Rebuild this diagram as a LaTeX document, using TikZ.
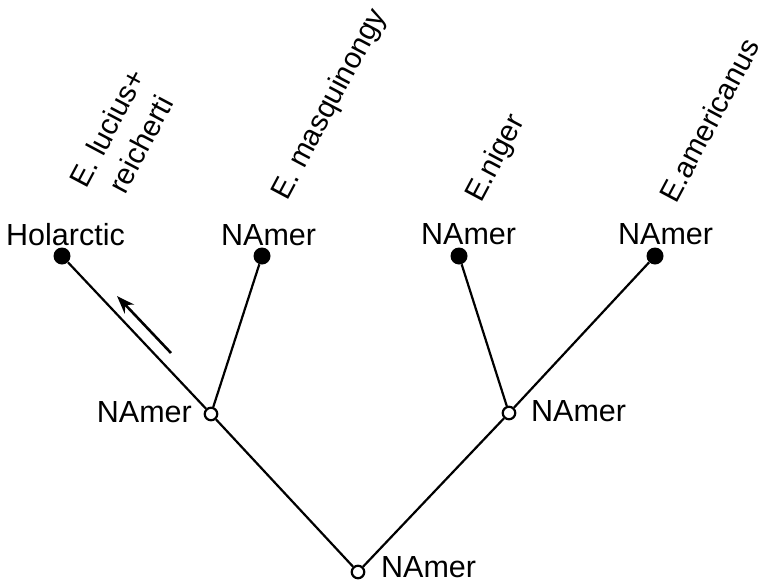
\documentclass[tikz,border=0pt]{standalone}
\usepackage{fontspec}
\setmainfont{Liberation Sans}
\usetikzlibrary{arrows.meta}
\begin{document}
\begin{tikzpicture}[x=1pt,y=-1pt,
  leaf/.style={circle,fill=black,inner sep=0pt,minimum size=17pt},
  innode/.style={circle,draw=black,fill=white,line width=2.2pt,inner sep=0pt,minimum size=12.5pt},
  lab/.style={inner sep=0pt,font=\fontsize{30.5}{36}\selectfont},
  sp/.style={inner sep=0pt,font=\fontsize{29.5}{36}\selectfont,rotate=62,anchor=base west},
  branch/.style={line width=2.2pt}]
\useasboundingbox (0,0) rectangle (768,584);
% nodes
\node[leaf] (hol) at (62,256) {};
\node[leaf] (mas) at (262,256) {};
\node[leaf] (nig) at (459,256) {};
\node[leaf] (ame) at (655,256) {};
\node[innode] (lin) at (211,414) {};
\node[innode] (rin) at (509,413) {};
\node[innode] (root) at (358,572) {};
% branches
\draw[branch] (root) -- (lin);
\draw[branch] (root) -- (rin);
\draw[branch] (lin) -- (hol);
\draw[branch] (lin) -- (mas);
\draw[branch] (rin) -- (nig);
\draw[branch] (rin) -- (ame);
% arrow
\coordinate (atail) at (171,353);
\coordinate (ahead) at (117,296);
\draw[line width=2.6pt,-{Stealth[length=18pt,width=13pt]}] (atail) -- (ahead);
% area labels
\node[lab,anchor=base west] (lhol) at (6,245) {Holarctic};
\node[lab,anchor=base west] (lmas) at (221,245) {NAmer};
\node[lab,anchor=base west] (lnig) at (421,244) {NAmer};
\node[lab,anchor=base west] (lame) at (618,244) {NAmer};
\node[lab,anchor=base east] (llin) at (192,422) {NAmer};
\node[lab,anchor=base west] (lrin) at (531,421) {NAmer};
\node[lab,anchor=base west] (lroot) at (381,577) {NAmer};
% species labels
\node[sp] (sluc) at (86,190) {E. lucius+};
\node[sp] (srei) at (125,196) {reicherti};
\node[sp] (smas) at (287,202) {E. masquinongy};
\node[sp] (snig) at (481,204) {E.niger};
\node[sp] (same) at (676,205) {E.americanus};
\end{tikzpicture}
\end{document}
